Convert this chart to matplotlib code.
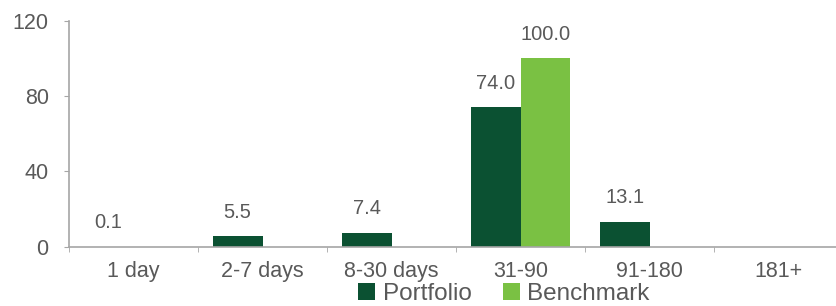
import numpy as np
import matplotlib
matplotlib.use('Agg')
import matplotlib.pyplot as plt

plt.rcParams['font.family'] = ['Liberation Sans', 'DejaVu Sans']

categories = ['1 day', '2-7 days', '8-30 days', '31-90', '91-180', '181+']
portfolio = [0.1, 5.5, 7.4, 74.0, 13.1, 0.0]
benchmark = [0.0, 0.0, 0.0, 100.0, 0.0, 0.0]

dark_green = '#0b5132'
light_green = '#7ac143'
text_grey = '#595959'
axis_grey = '#a6a6a6'

fig = plt.figure(figsize=(8.36, 3.06), dpi=100)
ax = fig.add_axes([69/836, (306-246.7)/306, 774/836, 226/306])

x = np.arange(len(categories))
w = 0.385
b1 = ax.bar(x - w/2, portfolio, w, color=dark_green, label='Portfolio')
b2 = ax.bar(x + w/2, benchmark, w, color=light_green, label='Benchmark')

# value labels, skip empty bars
for bars, vals in [(b1, portfolio), (b2, benchmark)]:
    for rect, v in zip(bars, vals):
        if v == 0:
            continue
        ax.annotate(f'{v:.1f}', (rect.get_x() + rect.get_width()/2, v),
                    xytext=(0, 10.5), textcoords='offset points',
                    ha='center', va='bottom', fontsize=14.5, color=text_grey)

ax.set_xlim(-0.5, len(categories) - 0.5)
ax.set_ylim(0, 120)
ax.set_yticks([0, 40, 80, 120])
ax.set_xticks(x)
ax.set_xticklabels(categories)
ax.set_xticks(np.arange(len(categories) + 1) - 0.5, minor=True)
ax.tick_params(axis='x', which='major', length=0, pad=10, labelsize=15.5, labelcolor=text_grey)
ax.tick_params(axis='x', which='minor', length=3.6, color=axis_grey, direction='out')
ax.tick_params(axis='y', length=3.6, color=axis_grey, pad=11, labelsize=15.5, labelcolor=text_grey)

for s in ['top', 'right']:
    ax.spines[s].set_visible(False)
for s in ['left', 'bottom']:
    ax.spines[s].set_color(axis_grey)
    ax.spines[s].set_linewidth(1.2)

fig.legend(handles=[b1, b2], loc='lower center', bbox_to_anchor=(504/836, -0.068),
           ncol=2, frameon=False, fontsize=17.5, labelcolor=text_grey,
           handlelength=0.7, handleheight=0.7, handletextpad=0.3, columnspacing=1.3)

fig.savefig('out.png', dpi=100)
